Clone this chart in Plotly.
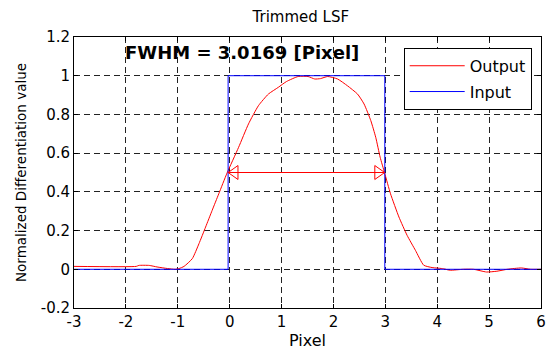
import plotly.graph_objects as go

# ---- data ----
output_x = [-3, -1.8, -1.75, -1.55, -1.4, -1.2, -1.05, -0.974, -0.879, -0.72,
            -0.592, -0.464, -0.338, -0.21, -0.051, 0.172, 0.363, 0.554, 0.745, 0.937,
            1.095, 1.32, 1.51, 1.64, 1.75, 1.89, 2.08, 2.27, 2.465, 2.59,
            2.72, 2.815, 2.9, 2.987, 3.10, 3.262, 3.42, 3.58, 3.74, 3.9,
            4.12, 4.24, 4.5, 4.7, 4.95, 5.15, 5.35, 5.62, 5.8, 6]
output_y = [0.015, 0.015, 0.02, 0.02, 0.012, 0.004, 0.0, 0.004, 0.015, 0.055,
            0.132, 0.218, 0.304, 0.39, 0.497, 0.63, 0.751, 0.845, 0.905, 0.94,
            0.97, 0.996, 0.996, 0.983, 0.985, 0.996, 0.983, 0.948, 0.905, 0.854,
            0.768, 0.682, 0.579, 0.497, 0.39, 0.27, 0.175, 0.098, 0.021, 0.009,
            0.003, -0.005, 0.0, 0.0, -0.014, -0.01, 0.0, 0.007, 0.0, 0.0]
input_x = [-3, -0.03, -0.03, 2.99, 2.99, 6]
input_y = [0, 0, 1, 1, 0, 0]
fwhm_left = -0.03
fwhm_right = 2.987
fwhm_level = 0.5
fwhm_value = 3.0169
x_ticks = [-3, -2, -1, 0, 1, 2, 3, 4, 5, 6]
y_ticks = [-0.2, 0, 0.2, 0.4, 0.6, 0.8, 1.0, 1.2]
y_tick_text = ["-0.2", "0", "0.2", "0.4", "0.6", "0.8", "1", "1.2"]

# arrow head size in data units
head_len = 0.19
head_half = 0.036

FONT = "DejaVu Sans"

fig = go.Figure()
fig.add_trace(go.Scatter(x=output_x, y=output_y, mode="lines", name="Output",
                         legendgroup="o",
                         line=dict(color="#ff0000", width=1, shape="spline", smoothing=0.5)))
fig.add_trace(go.Scatter(x=input_x, y=input_y, mode="lines", name="Input",
                         legendgroup="i",
                         line=dict(color="#0000ff", width=1)))
# double arrow
fig.add_trace(go.Scatter(x=[fwhm_left, fwhm_right], y=[fwhm_level, fwhm_level], mode="lines",
                         showlegend=False, line=dict(color="#ff0000", width=1), hoverinfo="skip"))
lx = [fwhm_left, fwhm_left + head_len, fwhm_left + head_len, fwhm_left]
ly = [fwhm_level, fwhm_level + head_half, fwhm_level - head_half, fwhm_level]
rx = [fwhm_right, fwhm_right - head_len, fwhm_right - head_len, fwhm_right]
fig.add_trace(go.Scatter(x=lx, y=ly, mode="lines", showlegend=False,
                         line=dict(color="#ff0000", width=1), hoverinfo="skip"))
fig.add_trace(go.Scatter(x=rx, y=ly, mode="lines", showlegend=False,
                         line=dict(color="#ff0000", width=1), hoverinfo="skip"))

fig.add_annotation(x=0.24, y=1.12, xref="x", yref="y",
                   text="<b>FWHM = %.4f [Pixel]</b>" % fwhm_value, showarrow=False,
                   font=dict(size=18, color="black", family=FONT))

axis_common = dict(showline=True, linecolor="black", linewidth=1, mirror="ticks",
                   ticks="inside", ticklen=4, tickcolor="black",
                   showgrid=True, gridcolor="#222222", griddash="6px,4px", gridwidth=1,
                   zeroline=False, tickfont=dict(size=15, color="black", family=FONT))

fig.update_layout(
    width=552, height=356,
    margin=dict(l=74, r=6, t=37, b=48),
    paper_bgcolor="white", plot_bgcolor="white",
    font=dict(family=FONT, color="black"),
    title=dict(text="Trimmed LSF", x=0.545, xanchor="center", y=0.952, yanchor="middle",
               font=dict(size=15, family=FONT)),
    xaxis=dict(range=[-3, 6], tickvals=x_ticks, ticktext=[str(v) for v in x_ticks],
               title=dict(text="Pixel", font=dict(size=16, family=FONT), standoff=4),
               **axis_common),
    yaxis=dict(range=[-0.2, 1.2], tickvals=y_ticks, ticktext=y_tick_text,
               title=dict(text="Normalized Differentiation value", font=dict(size=13.5, family=FONT),
                          standoff=10),
               **axis_common),
    legend=dict(x=0.706, y=0.96, xanchor="left", yanchor="top", bgcolor="white",
                bordercolor="black", borderwidth=1, font=dict(size=16, family=FONT),
                itemwidth=55, tracegroupgap=2),
    showlegend=True,
)

fig.write_html("out.html")
